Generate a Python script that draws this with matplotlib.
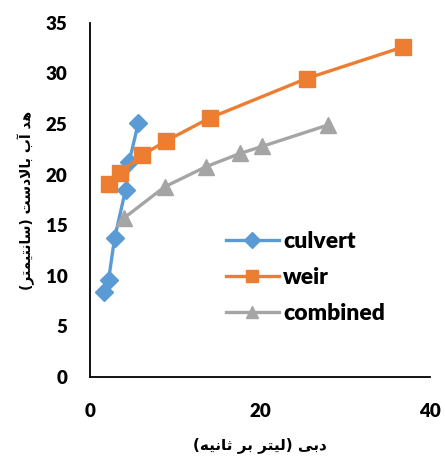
import matplotlib
matplotlib.use("Agg")
import matplotlib.pyplot as plt

# discharge (L/s) vs upstream head (cm)
culvert_q = [1.7, 2.2, 2.9, 4.2, 4.6, 5.7]
culvert_h = [8.4, 9.6, 13.7, 18.5, 21.2, 25.1]

weir_q = [2.2, 3.6, 6.1, 8.9, 14.1, 25.5, 36.8]
weir_h = [19.1, 20.2, 21.9, 23.3, 25.6, 29.5, 32.6]

combined_q = [4.0, 8.8, 13.7, 17.7, 20.3, 28.0]
combined_h = [15.7, 18.8, 20.8, 22.1, 22.8, 24.9]

x_ticks = [0, 20, 40]
y_ticks = [0, 5, 10, 15, 20, 25, 30, 35]

xlabel_fa = "دبی (لیتر بر ثانیه)"
ylabel_fa = "هد آب بالادست (سانتیمتر)"

# contextual forms: (isolated, final[, initial, medial])
FORMS = {
    "ا": (0xFE8D, 0xFE8E), "آ": (0xFE81, 0xFE82),
    "د": (0xFEA9, 0xFEAA), "ر": (0xFEAD, 0xFEAE),
    "ب": (0xFE8F, 0xFE90, 0xFE91, 0xFE92),
    "ت": (0xFE95, 0xFE96, 0xFE97, 0xFE98),
    "ث": (0xFE99, 0xFE9A, 0xFE9B, 0xFE9C),
    "س": (0xFEB1, 0xFEB2, 0xFEB3, 0xFEB4),
    "ل": (0xFEDD, 0xFEDE, 0xFEDF, 0xFEE0),
    "م": (0xFEE1, 0xFEE2, 0xFEE3, 0xFEE4),
    "ن": (0xFEE5, 0xFEE6, 0xFEE7, 0xFEE8),
    "ه": (0xFEE9, 0xFEEA, 0xFEEB, 0xFEEC),
    "ی": (0xFEEF, 0xFEF0, 0xFEF3, 0xFEF4),
}


def rtl(text):
    """shape Persian letters and return them in display order"""
    out = []
    i = 0
    n = len(text)
    while i < n:
        c = text[i]
        if c not in FORMS:
            out.append(c)
            i += 1
            continue
        prev = text[i - 1] if i > 0 else None
        joins_prev = prev in FORMS and len(FORMS[prev]) == 4
        if c == "ل" and i + 1 < n and text[i + 1] == "ا":
            out.append(chr(0xFEFC if joins_prev else 0xFEFB))
            i += 2
            continue
        f = FORMS[c]
        nxt = text[i + 1] if i + 1 < n else None
        joins_next = len(f) == 4 and nxt in FORMS
        if joins_prev and joins_next:
            g = f[3]
        elif joins_prev:
            g = f[1]
        elif joins_next:
            g = f[2]
        else:
            g = f[0]
        out.append(chr(g))
        i += 1
    return "".join(out)[::-1].translate(str.maketrans("()", ")("))


plt.rcParams["font.family"] = ["Lato", "DejaVu Sans"]
plt.rcParams["font.weight"] = "bold"

fig = plt.figure(figsize=(4.45, 4.57), dpi=100)
ax = fig.add_axes([0.202, 0.175, 0.764, 0.775])

ax.plot(culvert_q, culvert_h, color="#5B9BD5", lw=2.4, marker="D", ms=9,
        label="culvert", clip_on=False)
ax.plot(weir_q, weir_h, color="#ED7D31", lw=2.4, marker="s", ms=11,
        label="weir", clip_on=False)
ax.plot(combined_q, combined_h, color="#A5A5A5", lw=2.4, marker="^", ms=11,
        label="combined", clip_on=False)

ax.set_xlim(0, 40)
ax.set_ylim(0, 35)
ax.set_xticks(x_ticks)
ax.set_yticks(y_ticks)
ax.tick_params(length=0, labelsize=13.5)
ax.tick_params(axis="x", pad=19)
ax.tick_params(axis="y", pad=16)
for lbl in ax.get_xticklabels() + ax.get_yticklabels():
    lbl.set_fontweight("heavy")

for side in ["top", "right"]:
    ax.spines[side].set_visible(False)
for side in ["left", "bottom"]:
    ax.spines[side].set_color("black")
    ax.spines[side].set_linewidth(1.3)

ax.set_xlabel(rtl(xlabel_fa), family="DejaVu Sans", fontweight="bold",
              fontsize=11, labelpad=12)
ax.set_ylabel(rtl(ylabel_fa), family="DejaVu Sans", fontweight="bold",
              fontsize=10, labelpad=8)

leg = ax.legend(loc="center left", bbox_to_anchor=(0.34, 0.28), frameon=False,
                fontsize=16.5, handlelength=2.3, handletextpad=0.2,
                labelspacing=0.65, markerscale=0.85)
for t in leg.get_texts():
    t.set_fontweight("heavy")

fig.savefig("out.png", dpi=100)
